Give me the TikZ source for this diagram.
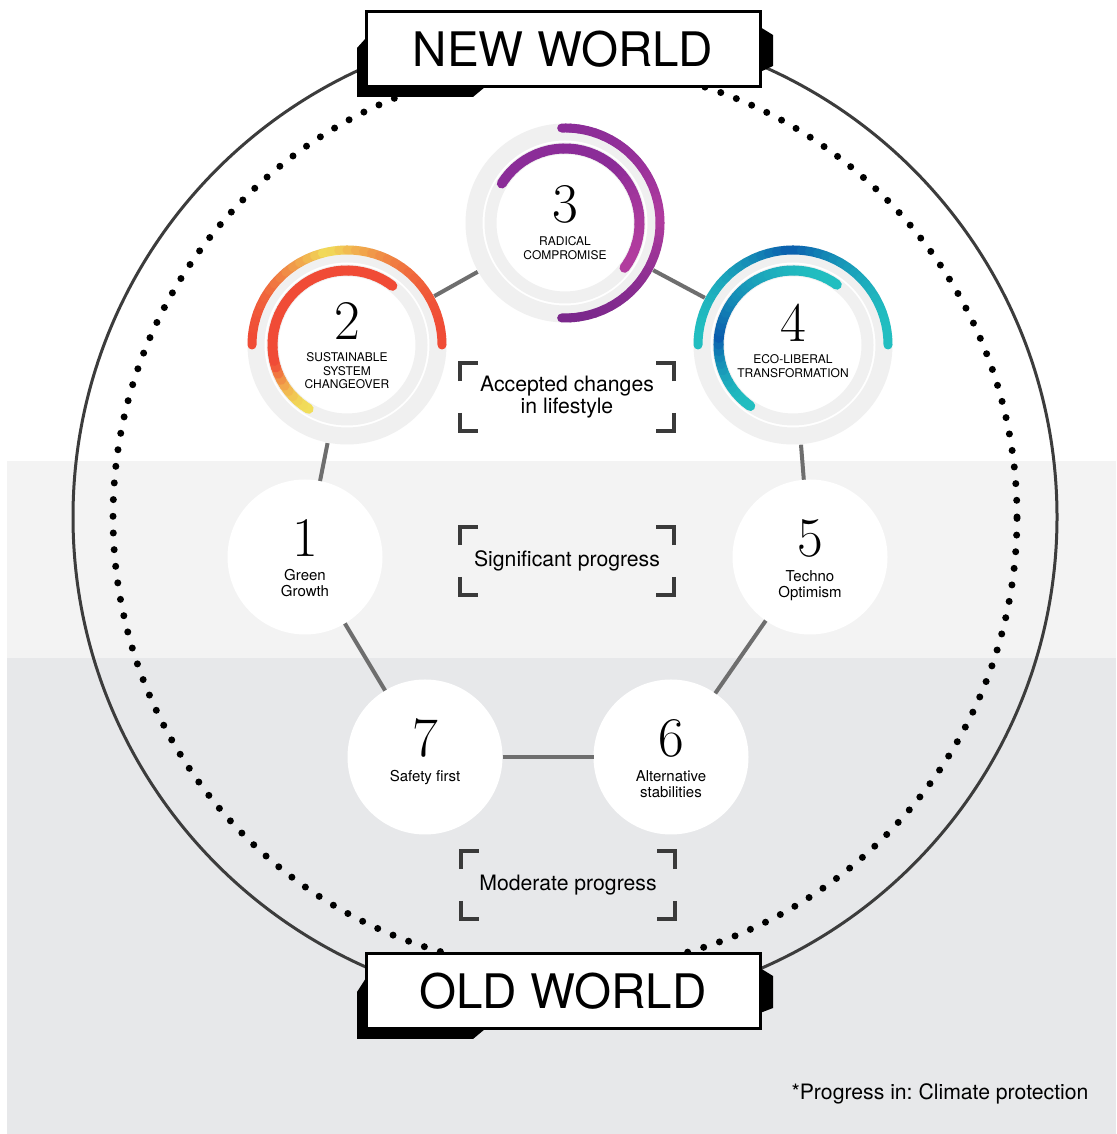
\documentclass[tikz,border=0pt]{standalone}
\usepackage{fontspec}
\newfontfamily\heros{TeX Gyre Heros}
\usetikzlibrary{positioning}

\definecolor{bandlight}{HTML}{F3F3F3}
\definecolor{banddark}{HTML}{E7E8EA}
\definecolor{ringline}{HTML}{3C3C3C}
\definecolor{linkgray}{HTML}{6E6E6E}
\definecolor{trackgray}{HTML}{F0F0F0}
\definecolor{cornergray}{HTML}{3A3A3A}
\definecolor{purpleA}{HTML}{8B2C98}
\definecolor{purpleB}{HTML}{B13C9E}
\definecolor{purpleC}{HTML}{7B288C}
\definecolor{redA}{HTML}{F04B36}
\definecolor{yellowA}{HTML}{F1DF5A}
\definecolor{tealA}{HTML}{22BFC0}
\definecolor{blueA}{HTML}{0A5CAD}

% arc with a colour run: node, radius, start, end, split, colour at start, at split, at end
\newcommand{\gradarc}[8]{%
  \foreach \i in {0,...,35}{%
    \pgfmathsetmacro{\angA}{#3+(#4-#3)*\i/36}%
    \pgfmathsetmacro{\angB}{#3+(#4-#3)*(\i+1)/36}%
    \pgfmathsetmacro{\segt}{(\i+0.5)/36}%
    \pgfmathsetmacro{\segu}{\segt<#5 ? \segt/#5 : (1-\segt)/(1-#5)}%
    \pgfmathtruncatemacro{\mixp}{100*(1-\segu*\segu)}%
    \ifdim\segt pt<#5pt \colorlet{segcol}{#6!\mixp!#7}\else\colorlet{segcol}{#8!\mixp!#7}\fi
    \draw[line cap=round, segcol, shift={(#1.center)}] (\angA:#2) arc[start angle=\angA, end angle=\angB, radius=#2];
  }%
}

\begin{document}
\begin{tikzpicture}[x=0.5pt, y=0.5pt,
    bubble/.style={circle, fill=white, inner sep=0pt, outer sep=0pt, minimum size=77.5pt},
    ringbubble/.style={circle, fill=white, inner sep=0pt, outer sep=0pt, minimum size=100pt},
    num/.style={inner sep=0pt, font=\fontsize{28}{28}\selectfont},
    capslabel/.style={inner sep=0pt, align=center, font=\heros\fontsize{6}{6.7}\selectfont},
    smalllabel/.style={inner sep=0pt, align=center, font=\heros\fontsize{7.5}{7.8}\selectfont},
    link/.style={linkgray, line width=2pt},
    bracketbox/.style={inner sep=0pt, align=center, minimum width=107pt, minimum height=33.5pt, font=\heros\fontsize{10.6}{11.2}\selectfont},
    corner/.style={cornergray, line width=2pt},
    banner/.style={draw=black, line width=1.5pt, fill=white, minimum width=197pt, minimum height=37.5pt, inner sep=0pt, font=\heros\fontsize{23.8}{23.8}\selectfont}
  ]
  \useasboundingbox (0,0) rectangle (1116,1134);
  \fill[white] (0,0) rectangle (1116,1134);
  \fill[bandlight] (7,476) rectangle (1116,673);
  \fill[banddark] (7,0) rectangle (1116,476);

  \draw[ringline, line width=1.5pt] (565,617) circle[radius=492];
  \draw[black, line width=3.5pt, line cap=round, dash pattern=on 0pt off 8.35pt] (565,617) circle[radius=452];

  \node[ringbubble] (n3) at (565,911) {};
  \node[ringbubble] (n2) at (347,789) {};
  \node[ringbubble] (n4) at (793,789) {};
  \node[bubble] (n1) at (305,577) {};
  \node[bubble] (n5) at (810,577) {};
  \node[bubble] (n7) at (425,377) {};
  \node[bubble] (n6) at (671,377) {};

  \foreach \a/\b in {n3/n2,n3/n4,n2/n1,n4/n5,n1/n7,n5/n6,n7/n6}
    \draw[link] (\a) -- (\b);

  \foreach \n in {n2,n3,n4}{
    \draw[trackgray, line width=8.5pt] (\n.center) circle[radius=91];
    \draw[trackgray, line width=6pt] (\n.center) circle[radius=74.5];
  }
  \begin{scope}[line width=4.5pt]
    \gradarc{n2}{95}{180}{0}{0.44}{redA}{yellowA}{redA}
    \gradarc{n3}{95}{92}{-92}{0.5}{purpleA}{purpleB}{purpleC}
    \gradarc{n4}{95}{180}{0}{0.5}{tealA}{blueA}{tealA}
  \end{scope}
  \begin{scope}[line width=5pt]
    \gradarc{n2}{74.5}{239}{52.5}{0.25}{yellowA}{redA}{redA}
    \gradarc{n3}{74.5}{148}{-37}{0.55}{purpleA}{purpleA}{purpleB}
    \gradarc{n4}{74.5}{235}{54}{0.35}{tealA}{blueA}{tealA}
  \end{scope}

  \node[num, anchor=base] (n3num) at (n3.center) {3};
  \node[capslabel, below=6pt of n3num] (n3txt) {RADICAL\\COMPROMISE};
  \node[num, anchor=base] (n2num) at ([yshift=2.5pt]n2.center) {2};
  \node[capslabel, below=6pt of n2num] (n2txt) {SUSTAINABLE\\SYSTEM\\CHANGEOVER};
  \node[num, anchor=base] (n4num) at ([yshift=1.5pt]n4.center) {4};
  \node[capslabel, below=6pt of n4num] (n4txt) {ECO-LIBERAL\\TRANSFORMATION};
  \node[num, anchor=base] (n1num) at (n1.center) {1};
  \node[smalllabel, below=6pt of n1num] (n1txt) {Green\\Growth};
  \node[num, anchor=base] (n5num) at (n5.center) {5};
  \node[smalllabel, below=6pt of n5num] (n5txt) {Techno\\Optimism};
  \node[num, anchor=base] (n7num) at (n7.center) {7};
  \node[smalllabel, below=6pt of n7num] (n7txt) {Safety first};
  \node[num, anchor=base] (n6num) at (n6.center) {6};
  \node[smalllabel, below=6pt of n6num] (n6txt) {Alternative\\stabilities};

  \node[bracketbox] (accbox) at (567,737) {Accepted changes\\in lifestyle};
  \node[bracketbox] (sigbox) at (567,573) {Significant progress};
  \node[bracketbox] (modbox) at (568,249) {Moderate progress};
  \foreach \b in {accbox,sigbox,modbox}{
    \draw[corner] ([yshift=-9pt]\b.north west) -- (\b.north west) -- ([xshift=9pt]\b.north west);
    \draw[corner] ([yshift=-9pt]\b.north east) -- (\b.north east) -- ([xshift=-9pt]\b.north east);
    \draw[corner] ([yshift=9pt]\b.south west) -- (\b.south west) -- ([xshift=9pt]\b.south west);
    \draw[corner] ([yshift=9pt]\b.south east) -- (\b.south east) -- ([xshift=-9pt]\b.south east);
  }

  \fill[black] (366,1096) -- (357,1086) -- (357,1037) -- (473,1037) -- (485,1047) -- (366,1047) -- cycle;
  \fill[black] (760,1107) -- (773,1099) -- (773,1068) -- (760,1062) -- cycle;
  \node[banner] (neww) at (563,1084.5) {NEW WORLD};

  \fill[black] (366,156) -- (357,142) -- (357,95) -- (473,95) -- (485,105) -- (366,105) -- cycle;
  \fill[black] (760,166) -- (773,158) -- (773,126) -- (760,121) -- cycle;
  \node[banner] (oldw) at (563,143) {OLD WORLD};

  \node[anchor=base, inner sep=0pt, font=\heros\fontsize{10.6}{11}\selectfont\frenchspacing] (note) at (940,34) {*Progress in: Climate protection};
\end{tikzpicture}
\end{document}
